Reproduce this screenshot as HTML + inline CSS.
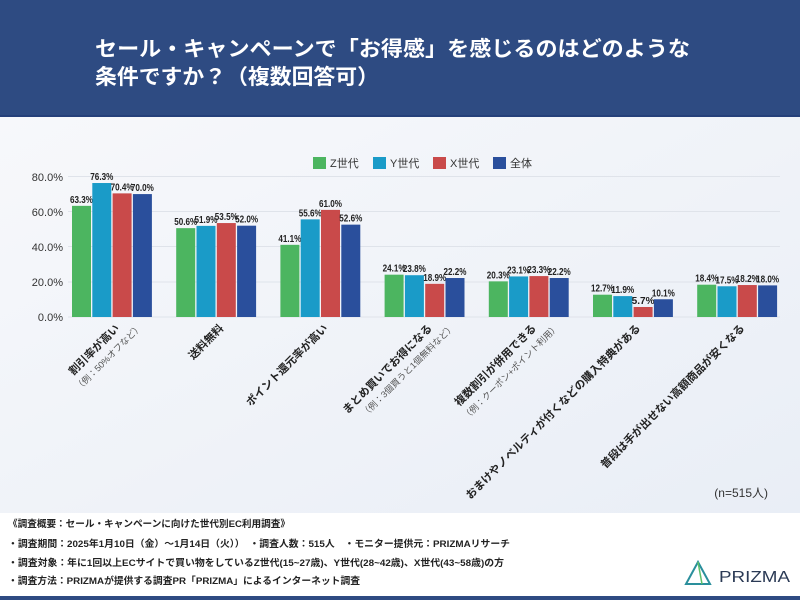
<!DOCTYPE html>
<html><head><meta charset="utf-8"><style>
body{margin:0;width:800px;height:600px;overflow:hidden;font-family:"Liberation Sans","Noto Sans CJK JP",sans-serif;}
</style></head><body>
<svg width="800" height="600" xmlns="http://www.w3.org/2000/svg" font-family="Liberation Sans, Noto Sans CJK JP, sans-serif">
<defs><linearGradient id="bg" x1="0" y1="0" x2="1" y2="1"><stop offset="0" stop-color="#f7f8fb"/><stop offset="1" stop-color="#e9eef6"/></linearGradient></defs>
<rect width="800" height="600" fill="#fff"/>
<rect x="0" y="117" width="800" height="396" fill="url(#bg)"/>
<rect x="0" y="0" width="800" height="116" fill="#2e4b82"/>
<rect x="0" y="115" width="800" height="2" fill="#25407a"/>
<text x="95" y="56" fill="#fff" font-size="21" font-weight="bold" textLength="595" lengthAdjust="spacingAndGlyphs">セール・キャンペーンで「お得感」を感じるのはどのような</text>
<text x="95" y="84" fill="#fff" font-size="21" font-weight="bold" textLength="284" lengthAdjust="spacingAndGlyphs">条件ですか？（複数回答可）</text>
<g font-size="11" fill="#333">
<rect x="313" y="157" width="13" height="12" fill="#4cb560"/><text x="330" y="167">Z世代</text>
<rect x="373" y="157" width="13" height="12" fill="#1a9bc8"/><text x="390" y="167">Y世代</text>
<rect x="433" y="157" width="13" height="12" fill="#c94a4a"/><text x="450" y="167">X世代</text>
<rect x="493" y="157" width="13" height="12" fill="#2a4f9c"/><text x="510" y="167">全体</text>
</g>
<g stroke="#dfe3ea" stroke-width="1">
<line x1="68" x2="780" y1="176.5" y2="176.5"/><line x1="68" x2="780" y1="211.5" y2="211.5"/><line x1="68" x2="780" y1="246.5" y2="246.5"/><line x1="68" x2="780" y1="282" y2="282"/><line x1="68" x2="780" y1="317" y2="317"/>
</g>
<g font-size="11" fill="#333" text-anchor="end">
<text x="63" y="181">80.0%</text><text x="63" y="216">60.0%</text><text x="63" y="251">40.0%</text><text x="63" y="286">20.0%</text><text x="63" y="321">0.0%</text>
</g>
<g id="bars"></g>
<g id="labels" font-size="11" font-weight="bold" fill="#222"></g>
<text x="768" y="497" font-size="12" fill="#333" text-anchor="end">(n=515人)</text>
<g font-size="9.5" fill="#222" font-weight="bold">
<text x="8" y="527" textLength="282" lengthAdjust="spacingAndGlyphs">《調査概要：セール・キャンペーンに向けた世代別EC利用調査》</text>
<text x="8" y="547" textLength="502" lengthAdjust="spacingAndGlyphs">・調査期間：2025年1月10日（金）～1月14日（火））　・調査人数：515人　・モニター提供元：PRIZMAリサーチ</text>
<text x="8" y="566" textLength="496" lengthAdjust="spacingAndGlyphs">・調査対象：年に1回以上ECサイトで買い物をしているZ世代(15~27歳)、Y世代(28~42歳)、X世代(43~58歳)の方</text>
<text x="8" y="584" textLength="352" lengthAdjust="spacingAndGlyphs">・調査方法：PRIZMAが提供する調査PR「PRIZMA」によるインターネット調査</text>
</g>
<polygon points="686,584 698,562 710,584" fill="none" stroke="#2a8f9c" stroke-width="2"/>
<line x1="698" y1="562" x2="702" y2="584" stroke="#5cc06a" stroke-width="1.5"/>
<text x="719" y="582" font-size="16" fill="#2b3a55" textLength="71" lengthAdjust="spacingAndGlyphs">PRIZMA</text>
<rect x="0" y="596" width="800" height="4" fill="#2e4b82"/>
</svg>
<script>
const d=[[63.3,76.3,70.4,70.0],[50.6,51.9,53.5,52.0],[41.1,55.6,61.0,52.6],[24.1,23.8,18.9,22.2],[20.3,23.1,23.3,22.2],[12.7,11.9,5.7,10.1],[18.4,17.5,18.2,18.0]];
const c=['#4cb560','#1a9bc8','#c94a4a','#2a4f9c'];
const L=[["割引率が高い","（例：50%オフなど）"],["送料無料",""],["ポイント還元率が高い",""],["まとめ買いでお得になる","（例：3個買うと1個無料など）"],["複数割引が併用できる","（例：クーポン+ポイント利用）"],["おまけやノベルティが付くなどの購入特典がある",""],["普段は手が出せない高額商品が安くなる",""]];
let s='',t='';
d.forEach((g,i)=>{const x0=72+i*104.2;g.forEach((v,j)=>{const h=v*1.756,x=x0+j*20.3,y=317-h;
s+=`<rect x="${x}" y="${y}" width="19" height="${h}" fill="${c[j]}"/>`;
s+=`<text x="${x+9.5}" y="${y-3}" font-size="10.5" font-weight="bold" fill="#222" text-anchor="middle" textLength="23" lengthAdjust="spacingAndGlyphs">${v.toFixed(1)}%</text>`;});
const cx=x0+40+8;
t+=`<g transform="translate(${cx},329) rotate(-45)"><text text-anchor="end">${L[i][0]}</text>`;
if(L[i][1])t+=`<text x="17" y="15" text-anchor="end" font-size="9" font-weight="normal" fill="#555">${L[i][1]}</text>`;
t+='</g>';});
document.getElementById('bars').innerHTML=s;document.getElementById('labels').innerHTML=t;
</script>
</body></html>
